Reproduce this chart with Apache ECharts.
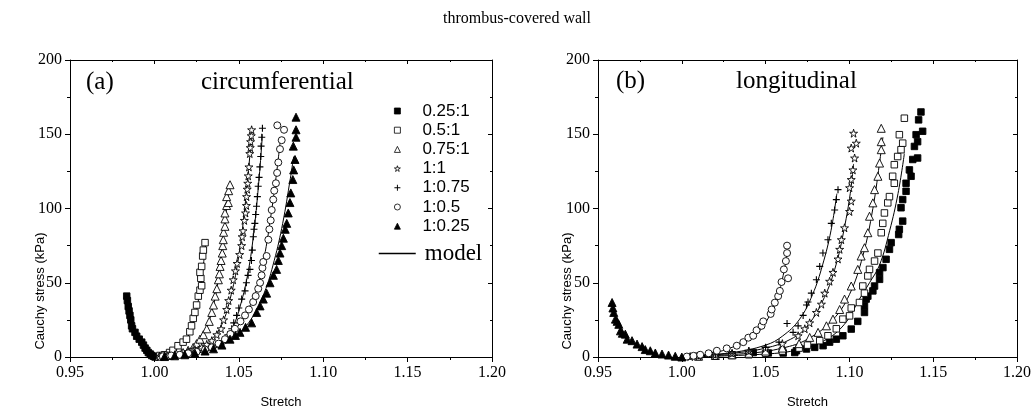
<!DOCTYPE html>
<html><head><meta charset="utf-8">
<script src="https://cdn.jsdelivr.net/npm/echarts@6/dist/echarts.min.js"></script>
<style>html,body{margin:0;padding:0;background:#fff}#c{width:1034px;height:414px}</style>
</head><body><div id="c"></div>
<script>
// ---------- data: [stretch, stress kPa] ----------
const seriesNames = ['0.25:1','0.5:1','0.75:1','1:1','1:0.75','1:0.5','1:0.25'];
const xTicks = [0.95,1.00,1.05,1.10,1.15,1.20];
const yTicks = [0,50,100,150,200];

// (a) circumferential
const circ_025 = [[0.9836,41],[0.9840,38],[0.9845,34],[0.9850,31],[0.9855,28],[0.9860,25],[0.9865,21],[0.9870,19],[0.9885,16.6],[0.9895,14],[0.9910,12],[0.9925,10],[0.9935,8],[0.9945,6],[0.9955,4.5],[0.9964,3],[0.9975,2],[0.9984,1],[0.9995,0.5],[1.0004,0]];
const circ_05 = [[1.0033,1],[1.006,1.5],[1.009,3],[1.011,4.5],[1.014,7.6],[1.017,10],[1.019,12],[1.021,17],[1.022,21],[1.023,26],[1.024,30],[1.025,35],[1.026,41],[1.027,45],[1.028,48],[1.0275,53],[1.027,57],[1.028,61],[1.0286,68],[1.029,72],[1.030,77]];
const circ_075 = [[1.003,0.5],[1.006,0.8],[1.009,1],[1.013,2],[1.017,3],[1.020,4.5],[1.023,6.5],[1.025,9],[1.027,12],[1.029,15],[1.031,19],[1.0325,24],[1.034,30],[1.035,35],[1.036,41],[1.037,46],[1.0379,52],[1.0385,56],[1.0389,61],[1.0395,65],[1.0402,70],[1.0405,75],[1.0408,79],[1.041,84],[1.0418,88],[1.0418,93],[1.0418,97],[1.0428,102],[1.0438,104],[1.0428,108],[1.044,112],[1.0448,116]];
const circ_11 = [[1.003,0.3],[1.008,1],[1.012,1.5],[1.016,2.5],[1.020,3.5],[1.024,5],[1.028,6.5],[1.031,8.5],[1.034,11],[1.037,15],[1.0395,19],[1.041,25],[1.0428,32],[1.044,38],[1.0455,45],[1.0467,52],[1.048,58],[1.049,63],[1.0505,69],[1.0517,75],[1.052,81],[1.0525,85],[1.0533,92],[1.054,97],[1.0545,102],[1.0546,108],[1.055,113],[1.0553,117],[1.0556,122],[1.056,128],[1.0565,137],[1.0568,141],[1.057,145],[1.0574,149],[1.0576,153]];
const circ_1075 = [[1.004,0.3],[1.010,0.8],[1.015,1.5],[1.020,2],[1.025,3],[1.030,4.5],[1.034,6],[1.038,8.5],[1.041,11],[1.0435,15],[1.0458,19],[1.047,23],[1.0487,28],[1.050,33],[1.0517,39],[1.0537,44.5],[1.0545,50],[1.0555,55],[1.0566,59],[1.0575,65],[1.058,72],[1.0586,81],[1.059,86],[1.0595,90],[1.060,96],[1.0605,101.5],[1.061,108],[1.0615,115],[1.062,121],[1.0625,128],[1.063,135],[1.0632,142],[1.0636,148],[1.064,154]];
const circ_105 = [[1.005,0.5],[1.010,1],[1.015,1.5],[1.020,2.5],[1.025,3.5],[1.030,5],[1.034,6.5],[1.038,9],[1.0418,12],[1.045,15.5],[1.0477,19],[1.051,24],[1.0537,28],[1.056,32],[1.0585,37],[1.060,41],[1.0615,46],[1.0626,50],[1.0635,55],[1.064,60],[1.0645,64],[1.0665,68],[1.0675,79],[1.0681,86],[1.0689,92],[1.0695,99],[1.0704,106],[1.071,112],[1.072,117],[1.0727,124],[1.0734,131],[1.0744,140],[1.0754,146],[1.0768,153],[1.0728,156]];
const circ_1025 = [[1.006,0.3],[1.012,0.8],[1.018,1.5],[1.024,2.5],[1.030,4],[1.035,5.5],[1.040,8],[1.0448,12],[1.048,14.5],[1.0507,16.6],[1.054,20],[1.0576,23],[1.0606,30],[1.0626,34.4],[1.0645,39],[1.0665,43],[1.0685,50],[1.0705,55],[1.0724,59],[1.0734,65],[1.0744,70],[1.0754,75],[1.0764,80],[1.0775,86],[1.0784,90],[1.0793,97],[1.0803,104],[1.0808,110.5],[1.082,119.5],[1.0825,126],[1.0833,133],[1.0823,142],[1.0839,148],[1.0839,153],[1.0839,161.5]];
const circModel_05 = [[1.0,0],[1.01,3],[1.015,7],[1.02,14],[1.024,27],[1.027,45],[1.029,62],[1.0305,77]];
const circModel_075 = [[1.0,0],[1.01,1.5],[1.02,5],[1.027,12],[1.032,23],[1.036,40],[1.039,62],[1.0415,88],[1.0445,116]];
const circModel_11 = [[1.0,0],[1.015,2],[1.025,5.5],[1.033,11],[1.04,22],[1.0455,42],[1.05,68],[1.0535,100],[1.0565,135],[1.0578,153]];
const circModel_1075 = [[1.0,0],[1.02,2.5],[1.03,5],[1.04,10],[1.046,19],[1.051,35],[1.0555,57],[1.059,85],[1.062,120],[1.064,150]];
const circModel_105 = [[1.0,0],[1.02,2.5],[1.035,7],[1.045,15],[1.053,27],[1.06,44],[1.065,67],[1.069,95],[1.0725,125],[1.0745,145]];
const circModel_1025 = [[1.0,0],[1.02,1.8],[1.035,5.5],[1.047,13],[1.057,25],[1.065,43],[1.071,65],[1.076,90],[1.0805,120],[1.0825,135]];

// (b) longitudinal
const long_025 = [[1.01,0.5],[1.02,1],[1.03,1.5],[1.0426,3],[1.0516,2.7],[1.0605,2.7],[1.0674,3],[1.0684,4.2],[1.0744,5.4],[1.0793,6.5],[1.0843,7.6],[1.0882,10],[1.0922,12],[1.0961,14.3],[1.1011,18.8],[1.105,24],[1.109,30],[1.109,34.4],[1.110,39],[1.111,41],[1.114,44.5],[1.115,47.8],[1.118,52.3],[1.118,56.8],[1.120,60.2],[1.1219,65.8],[1.1239,72.5],[1.1249,77],[1.1294,82.5],[1.1298,86],[1.1318,91.5],[1.1308,100.5],[1.1318,106],[1.1338,111.6],[1.1338,117],[1.1368,121.7],[1.1358,126],[1.1378,133],[1.1407,134],[1.1388,141.8],[1.1407,145],[1.1398,149.7],[1.1437,152],[1.1413,159.7],[1.1427,165]];
const long_05 = [[1.01,0.3],[1.02,0.5],[1.03,1],[1.04,1.5],[1.05,2.5],[1.06,4],[1.07,6],[1.075,8],[1.0823,11],[1.0872,14.3],[1.0922,19],[1.0961,25.5],[1.1001,27.7],[1.1011,33],[1.106,36.7],[1.109,43],[1.108,47.8],[1.111,54.6],[1.112,59],[1.115,64.6],[1.117,70],[1.119,83.7],[1.1199,90],[1.1209,97],[1.1229,103.8],[1.1239,108],[1.1268,117],[1.1258,121.7],[1.1268,129.5],[1.1288,135],[1.1308,139.6],[1.1318,144],[1.1298,149.7],[1.1328,160.8]];
const long_075 = [[1.01,0.5],[1.02,1],[1.03,1.5],[1.04,2.5],[1.05,4],[1.06,6],[1.07,9],[1.0763,13.2],[1.0813,16.6],[1.0863,21],[1.0902,25.5],[1.0942,32],[1.0971,39],[1.1011,47.8],[1.105,59],[1.107,68],[1.109,73.6],[1.111,83.7],[1.112,94.8],[1.114,103.8],[1.115,112.7],[1.117,121.7],[1.118,130.6],[1.119,139.6],[1.119,145],[1.119,154]];
const long_11 = [[1.005,0.3],[1.01,0.8],[1.02,1.5],[1.03,2.5],[1.04,4],[1.05,6],[1.06,9],[1.0694,14.3],[1.0734,19],[1.0763,23],[1.0803,30],[1.0833,35.6],[1.0853,43],[1.0882,51],[1.0902,57],[1.0932,66],[1.0942,72.5],[1.0952,79],[1.0971,87],[1.1001,98],[1.1011,105],[1.1001,114],[1.1011,119.5],[1.1021,126],[1.1031,134],[1.1011,140.7],[1.1041,144],[1.1025,150.7]];
const long_1075 = [[1.005,0.3],[1.01,0.8],[1.02,1.5],[1.03,2.5],[1.04,4],[1.05,6.5],[1.058,10],[1.0628,22.6],[1.0664,16.6],[1.0694,21],[1.0724,28],[1.0744,35],[1.0753,37],[1.0773,43],[1.0803,52],[1.0823,61],[1.0842,70],[1.0872,79],[1.0892,90],[1.0912,99],[1.0922,106],[1.0932,112.7]];
const long_105 = [[1.003,0.3],[1.007,0.8],[1.011,1.5],[1.016,2.5],[1.0209,4.2],[1.0268,5.8],[1.0328,7.6],[1.0367,10],[1.0397,13],[1.0426,14.3],[1.0446,18],[1.0476,21],[1.0486,24],[1.053,29],[1.0536,32],[1.0555,36.6],[1.0575,41],[1.0585,44.5],[1.0595,50.5],[1.0634,53],[1.0609,59],[1.0621,64.6],[1.0628,70],[1.0628,75]];
const long_1025 = [[0.9584,36.7],[0.9589,33],[0.9594,30],[0.9604,25.5],[0.9614,24],[0.9624,22],[0.9634,17.6],[0.9645,16],[0.9663,15.4],[0.9674,12],[0.9703,11],[0.9733,8.7],[0.9763,7],[0.9782,5],[0.9812,4.2],[0.9842,2.7],[0.9882,2],[0.9921,1.3],[0.9961,0.5],[1.0,0]];
const longModel_05 = [[1.0,0],[1.05,2],[1.07,5],[1.085,11],[1.097,22],[1.106,39],[1.112,50],[1.118,62],[1.124,85],[1.129,110],[1.1328,137]];
const longModel_075 = [[1.0,0],[1.04,2.5],[1.06,6],[1.075,12],[1.09,25],[1.1,42],[1.108,68],[1.114,100],[1.1185,135],[1.12,148]];
const longModel_11 = [[1.0,0],[1.03,2.5],[1.05,6],[1.065,12],[1.075,21],[1.085,40],[1.092,62],[1.097,87],[1.1005,110],[1.1025,130]];
const longModel_1075 = [[1.0,0],[1.03,3],[1.05,8],[1.06,14],[1.07,25],[1.078,42],[1.084,62],[1.089,85],[1.0925,110]];
const longModel_105 = [[1.0,0],[1.02,3],[1.035,9],[1.045,16],[1.052,27],[1.057,40],[1.0605,55],[1.0628,70]];

// ---------- rendering ----------
const SERIF = 'Liberation Serif, Times New Roman, serif';
const SANS = 'Liberation Sans, Arial, sans-serif';
const STAR = 'path://M50,0 L61,35 L98,35 L68,57 L79,91 L50,70 L21,91 L32,57 L2,35 L39,35 Z';
const PLUS = 'path://M42,0 L58,0 L58,42 L100,42 L100,58 L58,58 L58,100 L42,100 L42,58 L0,58 L0,42 L42,42 Z';
const markers = {
  '0.25:1': {symbol:'rect', size:6.5, fill:'#000'},
  '0.5:1':  {symbol:'rect', size:6.5, fill:'#fff'},
  '0.75:1': {symbol:'triangle', size:8, fill:'#fff'},
  '1:1':    {symbol:STAR, size:8, fill:'#fff'},
  '1:0.75': {symbol:PLUS, size:7, fill:'#000', noBorder:true},
  '1:0.5':  {symbol:'circle', size:7, fill:'#fff'},
  '1:0.25': {symbol:'triangle', size:8, fill:'#000'}
};
function scatter(name, data, gi) {
  const m = markers[name];
  return {type:'scatter', name, data, xAxisIndex:gi*2, yAxisIndex:gi*2,
    symbol:m.symbol, symbolSize:m.size, z:3,
    itemStyle:{color:m.fill, borderColor:'#000', borderWidth:m.noBorder?0:0.9, opacity:1},
    emphasis:{disabled:true}, animation:false};
}
function model(data, gi) {
  return {type:'line', name:'model', data, xAxisIndex:gi*2, yAxisIndex:gi*2,
    smooth:0.4, symbol:'none', z:2, lineStyle:{color:'#000', width:1},
    emphasis:{disabled:true}, animation:false};
}
const grids = [{left:70, top:60, width:422, height:298}, {left:598, top:60, width:420, height:298}];
const xAxes = [], yAxes = [];
grids.forEach((g, i) => {
  const common = {min:0.95, max:1.20, interval:0.05, type:'value', gridIndex:i,
    axisLine:{show:true, onZero:false, lineStyle:{color:'#000', width:1}},
    splitLine:{show:false}};
  xAxes.push(Object.assign({}, common, {position:'bottom',
    axisTick:{show:true, length:5, lineStyle:{color:'#000'}},
    minorTick:{show:true, splitNumber:2, length:3, lineStyle:{color:'#000'}},
    axisLabel:{fontFamily:SERIF, fontSize:16, color:'#000', margin:8, formatter:v=>v.toFixed(2)},
    name:'Stretch', nameLocation:'middle', nameGap:39, nameMoveOverlap:false,
    nameTextStyle:{fontFamily:SANS, fontSize:13, color:'#000'}}));
  xAxes.push(Object.assign({}, common, {position:'top',
    axisTick:{show:true, length:4, inside:true, lineStyle:{color:'#000'}},
    minorTick:{show:true, splitNumber:2, length:2, lineStyle:{color:'#000'}},
    axisLabel:{show:false}}));
  const ycommon = {min:0, max:200, interval:50, type:'value', gridIndex:i,
    axisLine:{show:true, onZero:false, lineStyle:{color:'#000', width:1}},
    splitLine:{show:false}};
  yAxes.push(Object.assign({}, ycommon, {position:'left',
    axisTick:{show:true, length:5, lineStyle:{color:'#000'}},
    minorTick:{show:true, splitNumber:2, length:3, lineStyle:{color:'#000'}},
    axisLabel:{fontFamily:SERIF, fontSize:16, color:'#000', margin:8}}));
  yAxes.push(Object.assign({}, ycommon, {position:'right',
    axisTick:{show:true, length:4, inside:true, lineStyle:{color:'#000'}},
    minorTick:{show:true, splitNumber:2, length:2, lineStyle:{color:'#000'}},
    axisLabel:{show:false}}));
});
const circData = [circ_025, circ_05, circ_075, circ_11, circ_1075, circ_105, circ_1025];
const longData = [long_025, long_05, long_075, long_11, long_1075, long_105, long_1025];
const series = [];
[circModel_05, circModel_075, circModel_11, circModel_1075, circModel_105, circModel_1025].forEach(d => series.push(model(d, 0)));
[longModel_05, longModel_075, longModel_11, longModel_1075, longModel_105].forEach(d => series.push(model(d, 1)));
seriesNames.forEach((n, k) => { series.push(scatter(n, circData[k], 0)); series.push(scatter(n, longData[k], 1)); });

const legendItems = seriesNames.map(n => ({name:n,
  itemStyle:{color:markers[n].fill, borderColor:'#000', borderWidth:markers[n].noBorder?0:0.8}}));
const T = (text, left, top, size) => ({text, left, top, padding:0,
  textStyle:{fontFamily:SERIF, fontSize:size, fontWeight:'normal', color:'#000'}});
const yTitle = (x) => ({type:'text', x, y:291, rotation:Math.PI/2,
  style:{text:'Cauchy stress (kPa)', font:'13px ' + SANS, fill:'#000', textAlign:'center', textVerticalAlign:'middle'}});

const chart = echarts.init(document.getElementById('c'), null, {renderer:'canvas'});
chart.setOption({
  animation:false,
  backgroundColor:'#fff',
  title:[
    T('thrombus-covered wall', 'center', 11, 16),
    T('(a)', 86, 70, 25),
    T('circumferential', 201, 70, 25),
    T('(b)', 616, 69, 25),
    T('longitudinal', 736, 69, 25)
  ],
  graphic:[yTitle(40), yTitle(567)],
  legend:[
    {data:legendItems, orient:'vertical', left:389, top:96.5, itemWidth:6, itemHeight:6, itemGap:0.2,
     selectedMode:false, textStyle:{fontFamily:SANS, fontSize:17, color:'#000', padding:[0,0,0,17], lineHeight:19}},
    {data:['model'], orient:'vertical', left:373, top:237, itemWidth:37, itemHeight:14,
     selectedMode:false, itemStyle:{opacity:0}, lineStyle:{width:1.5, color:'#000'},
     textStyle:{fontFamily:SERIF, fontSize:23, color:'#000', padding:[0,0,0,4]}}
  ],
  grid:grids, xAxis:xAxes, yAxis:yAxes, series
});
</script></body></html>
